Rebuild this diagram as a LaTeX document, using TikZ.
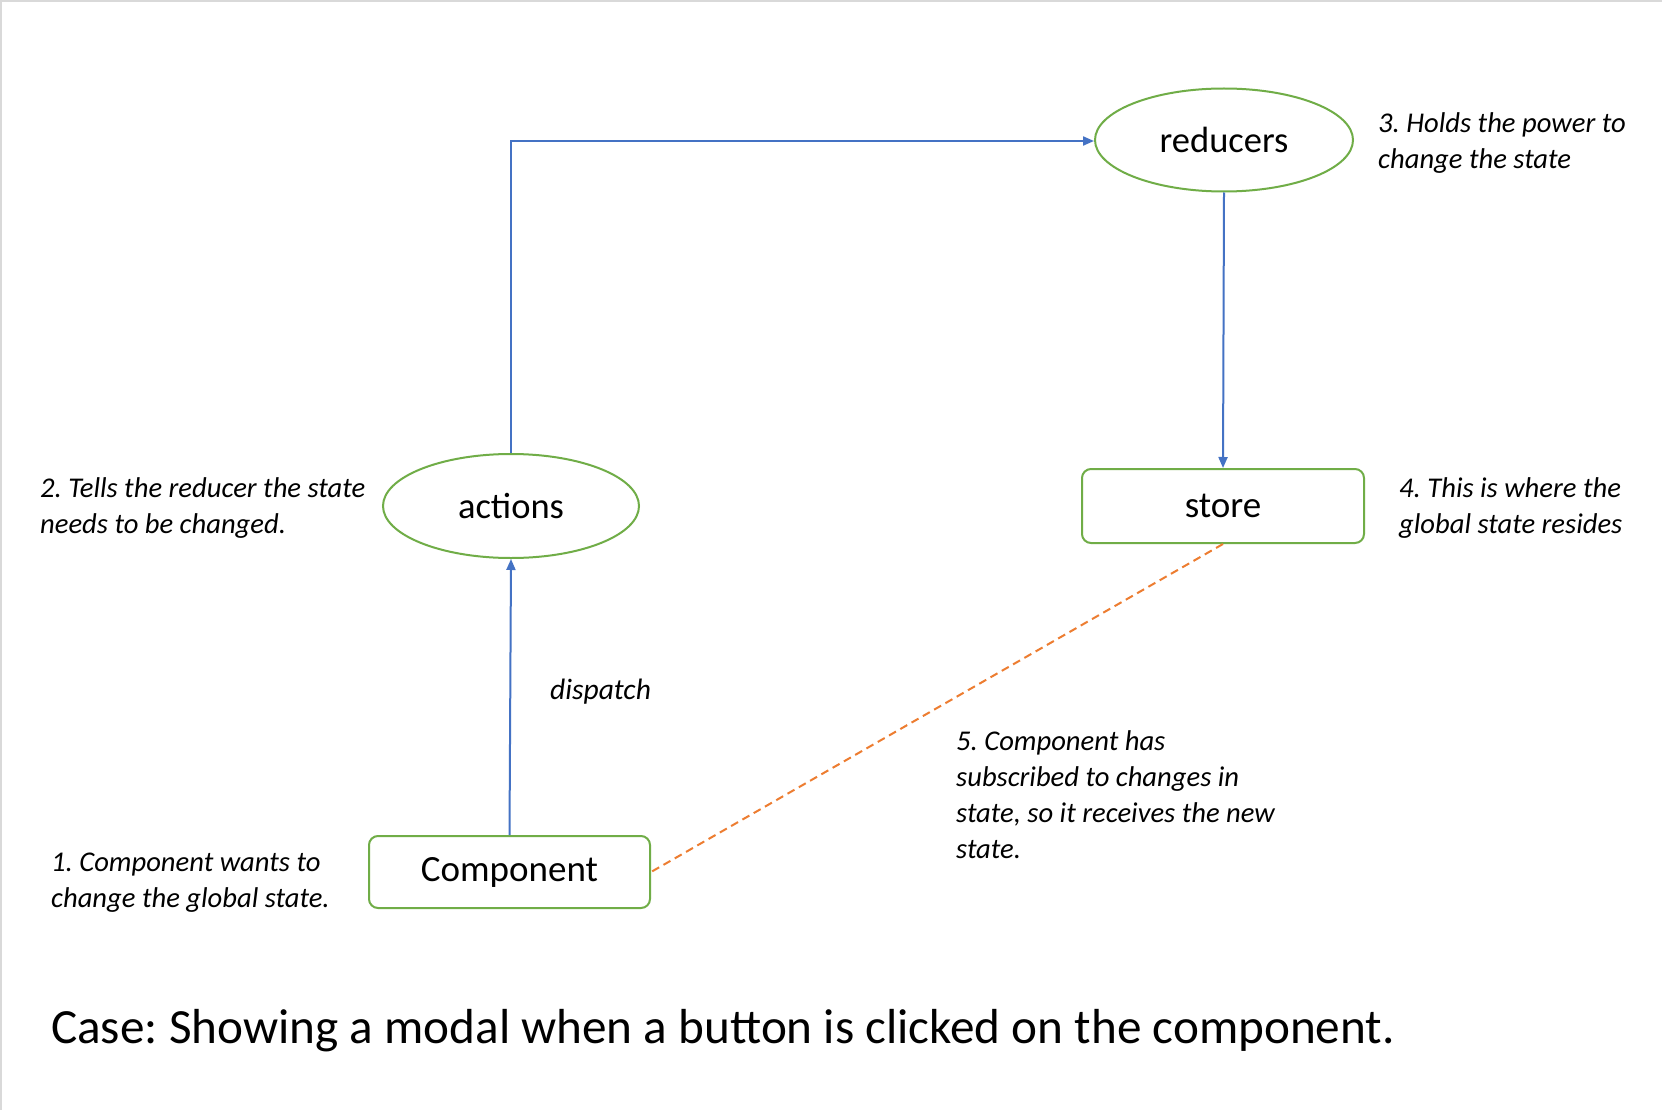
\documentclass[tikz,border=0pt]{standalone}
\usepackage{fontspec}
\setmainfont{Carlito}
\usetikzlibrary{arrows.meta,shapes.geometric}
\definecolor{ogreen}{HTML}{70AD47}
\definecolor{oblue}{HTML}{4472C4}
\definecolor{oorange}{HTML}{ED7D31}
\definecolor{bordergray}{HTML}{D9D9D9}
\frenchspacing
\tikzset{
  ell/.style={ellipse,draw=ogreen,line width=2pt,inner sep=0pt,font=\fontsize{36.5}{40}\selectfont},
  box/.style={rectangle,rounded corners=9pt,draw=ogreen,line width=2pt,inner sep=0pt,font=\fontsize{37}{40}\selectfont},
  note/.style={anchor=base west,inner sep=0pt,align=left,font=\fontsize{28.6}{36}\selectfont\itshape},
  flow/.style={draw=oblue,line width=2pt,-{Triangle[length=11pt,width=9pt]}},
  sub/.style={draw=oorange,line width=2pt,dash pattern=on 8pt off 5pt}
}
\begin{document}
\begin{tikzpicture}[x=1pt,y=-1pt]
\useasboundingbox (0,0) rectangle (1662,1110);
\fill[white] (0,0) rectangle (1662,1110);
\draw[bordergray,line width=4pt] (0,1110) -- (0,0) -- (1662,0);

\node[ell,minimum width=258pt,minimum height=103pt] (red) at (1224,140) {reducers};
\node[ell,minimum width=256pt,minimum height=104pt] (act) at (511,506) {actions};
\node[box,minimum width=282pt,minimum height=74pt] (sto) at (1223,506) {store};
\node[box,minimum width=281pt,minimum height=72pt] (comp) at (509.5,872) {Component};

\coordinate (bend) at (act.north |- 0,141);
\draw[flow] (act.north) -- (bend) -- (bend -| red.west);
\draw[flow] (red.south) -- (sto.north);
\draw[flow] (comp.north) -- (act.south);
\draw[sub] (sto.south) -- (comp.east);

\node[note] (n3) at (1378,169) {3. Holds the power to\\change the state};
\node[note] (n2) at (40,533) {2. Tells the reducer the state\\needs to be changed.};
\node[note] (n4) at (1399,533) {4. This is where the\\global state resides};
\node[note] (n1) at (51,907) {1. Component wants to\\change the global state.};
\node[note,font=\fontsize{29.5}{36}\selectfont\itshape] (nd) at (550,699) {dispatch};
\node[note] (n5) at (956,858) {5. Component has\\subscribed to changes in\\state, so it receives the new\\state.};
\node[anchor=base west,inner sep=0pt,font=\fontsize{49.2}{56}\selectfont] (cap) at (51,1043) {Case: Showing a modal when a button is clicked on the component.};
\end{tikzpicture}
\end{document}
